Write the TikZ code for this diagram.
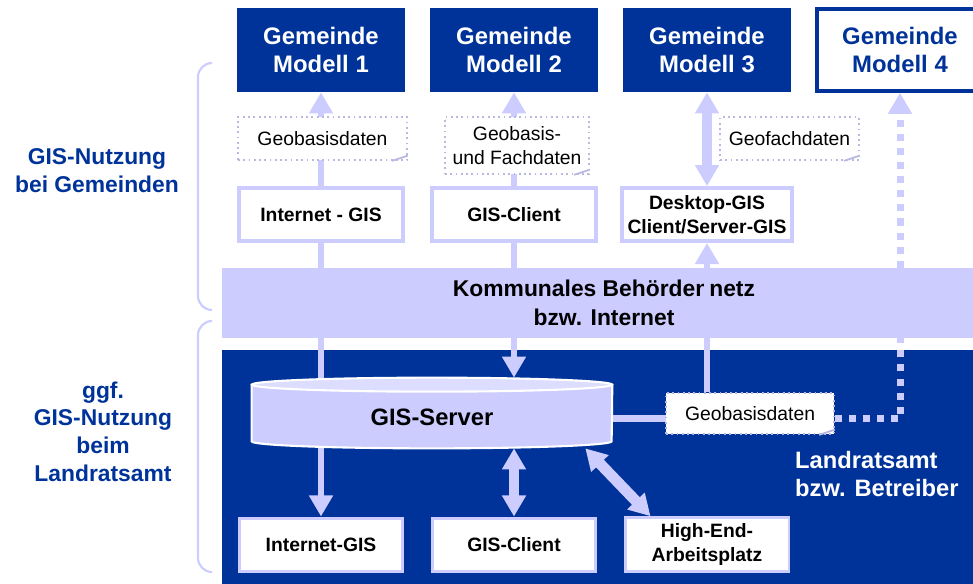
\documentclass[tikz,border=0pt]{standalone}
\usepackage{fontspec}
\setmainfont{Liberation Sans}
\usetikzlibrary{arrows.meta,calc}

\definecolor{kblue}{HTML}{003399}
\definecolor{lav}{HTML}{CCCCFF}
\definecolor{lavtop}{HTML}{DDDDFF}
\definecolor{notegray}{HTML}{B8B8E0}

\begin{document}
\begin{tikzpicture}[x=0.02cm, y=-0.02cm]
    \tikzstyle{every node}=[font=\fontsize{11}{13.5}\selectfont]
    \tikzstyle{gembox}=[fill=kblue, text=white, align=center, minimum width=3.36cm, minimum height=1.68cm,
                        font=\fontsize{13.6}{16.4}\selectfont\bfseries]
    \tikzstyle{midbox}=[fill=white, draw=lav, line width=2.2pt, align=center, minimum width=3.28cm,
                        minimum height=1.06cm, font=\fontsize{11}{13.6}\selectfont\bfseries]
    \tikzstyle{notebox}=[fill=white, draw=notegray, dotted, line width=1pt, align=center, inner sep=0pt]
    \tikzstyle{conn}=[lav, line width=3.7pt, >={Triangle[width=13pt,length=12pt]}]
    \tikzstyle{dconn}=[conn, line width=6.2pt, <->]
    \tikzstyle{dots}=[lav, line width=4pt, dash pattern=on 4pt off 4pt, >={Triangle[width=13pt,length=12pt]}]
    \tikzstyle{brace}=[lav, line width=1.2pt, rounded corners=8pt]
    \tikzstyle{sidelabel}=[text=kblue, align=center, font=\fontsize{13}{15.8}\selectfont\bfseries]

      \useasboundingbox (0,0) rectangle (973,583);

      % background areas
      \fill[kblue] (222,350) rectangle (990,590);
      \node[fill=lav, minimum width=15.28cm, minimum height=1.4cm, align=center,
            font=\fontsize{13}{16.4}\selectfont\bfseries] (net) at (604,303)
            {Kommunales Beh\"ordennetz\\bzw. Internet};

      % Gemeinden
      \node[gembox] (g1) at (321,50) {Gemeinde\\Modell 1};
      \node[gembox] (g2) at (514,50) {Gemeinde\\Modell 2};
      \node[gembox] (g3) at (707,50) {Gemeinde\\Modell 3};
      \node[gembox, fill=white, draw=kblue, line width=2pt, text=kblue,
            minimum width=3.32cm, minimum height=1.64cm] (g4) at (900,50) {Gemeinde\\Modell 4};

      % GIS at the Gemeinden
      \node[midbox] (m1) at (321,214.5) {Internet - GIS};
      \node[midbox] (m2) at (514,214.5) {GIS-Client};
      \node[midbox] (m3) at (707,214.5) {Desktop-GIS\\Client/Server-GIS};

      % GIS at the Landratsamt
      \node[midbox, line width=1.7pt] (b1) at (321,544.5) {Internet-GIS};
      \node[midbox, line width=1.7pt] (b2) at (514,544.5) {GIS-Client};
      \node[midbox, line width=1.7pt] (b3) at (707,544.5) {High-End-\\Arbeitsplatz};
      \node[minimum width=7.2cm, minimum height=1.4cm] (srv) at (432,413) {};

      % arrows up to the Gemeinden
      \draw[conn, ->] (m1.north) -- (g1.south);
      \draw[conn, ->] (m2.north) -- (g2.south);
      \draw[dconn] (m3.north) -- (g3.south);
      \draw[dots, ->] (net.north -| g4) -- (g4.south);

      % links through the network
      \draw[conn] (m1.south) -- (srv.north -| m1);
      \draw[conn] (m2.south) -- (net.north -| m2);
      \draw[conn, ->] (net.south -| m2) -- (srv.north -| m2);
      \draw[conn] ([yshift=-3pt]srv.east) -- ([yshift=-3pt]srv.east -| 666,0);

      % links to the workplaces
      \draw[conn, ->] (srv.south -| b1) -- (b1.north);
      \draw[dconn] (srv.south -| b2) -- (b2.north);
      \draw[dconn] ($(srv.south east)+(-27,0)$) -- ($(b3.north west)+(27,0)$);

      % server cylinder
      \filldraw[fill=lav, draw=white, line width=1.2pt]
          ([yshift=-0.14cm]srv.north west) -- ([yshift=0.14cm]srv.south west)
          arc[start angle=180, end angle=360, x radius=3.6cm, y radius=0.14cm]
          -- ([yshift=-0.14cm]srv.north east) -- cycle;
      \filldraw[fill=lavtop, draw=white, line width=1.2pt]
          ([yshift=-0.14cm]srv.north) ellipse [x radius=3.6cm, y radius=0.14cm];
      \node[font=\fontsize{13.5}{16}\selectfont\bfseries] (srvlabel) at (432,417) {GIS-Server};

      % data notes
      \node[notebox, minimum width=3.38cm, minimum height=0.86cm] (a1) at (322.5,138.5) {Geobasisdaten};
      \node[notebox, minimum width=2.88cm, minimum height=1.14cm] (a2) at (517,145.5) {Geobasis-\\und Fachdaten};
      \node[notebox, minimum width=2.78cm, minimum height=0.86cm] (a3) at (789.5,138.5) {Geofachdaten};
      \node[notebox, minimum width=3.36cm, minimum height=0.82cm] (a4) at (750,413.5) {Geobasisdaten};
      \foreach \n in {a1,a2,a3,a4}
         \draw[notegray, line width=1pt] ([xshift=-9pt]\n.south east) -- ([yshift=3pt]\n.south east);

      \draw[conn, ->] (a4.north -| m3) -- (m3.south);
      \draw[dots] ([yshift=-3pt]a4.east) -| (net.south -| g4);

      % braces and labels
      \draw[brace] (212,63) -- (198,63) -- (198,310) -- (212,310);
      \draw[brace] (212,321) -- (198,321) -- (198,572) -- (212,572);
      \node[sidelabel] (lgem) at (97,171) {GIS-Nutzung\\bei Gemeinden};
      \node[sidelabel] (llra) at (103,431.5) {ggf.\\GIS-Nutzung\\beim\\Landratsamt};
      \node[text=white, align=left, anchor=west, font=\fontsize{13.5}{16}\selectfont\bfseries]
          (lra) at (789,474) {Landratsamt\\bzw. Betreiber};

    \end{tikzpicture}
\end{document}
